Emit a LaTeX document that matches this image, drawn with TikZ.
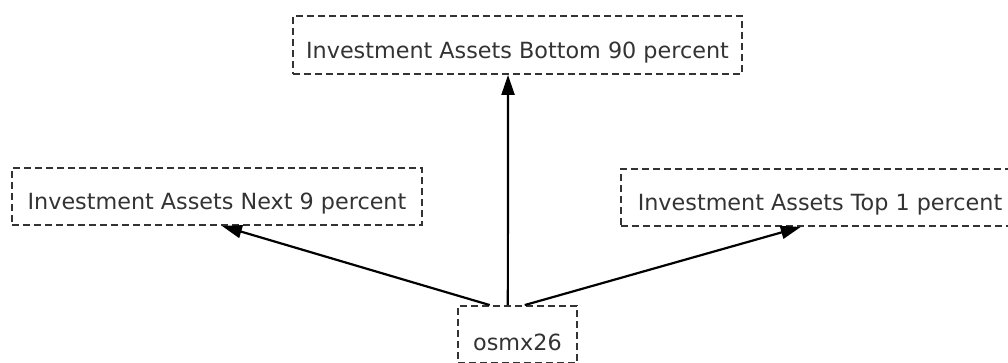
\documentclass[tikz,border=0pt]{standalone}
\usepackage{fontspec}
\setmainfont{DejaVu Sans}
\usetikzlibrary{arrows.meta,calc}
\begin{document}
\begin{tikzpicture}[x=1pt,y=-1pt,
  box/.style={draw=black!80, line width=1.9pt, dash pattern=on 7pt off 4pt,
    rectangle, inner sep=0pt, font=\fontsize{22.3}{24}\selectfont, text=black!80,
    text height=26pt, text depth=0pt},
  link/.style={line width=2.2pt, -{Triangle[length=20pt,width=13pt]}}]
\useasboundingbox (0,0) rectangle (1008,362);
\clip (0,0) rectangle (1008,362);
\node[box, minimum width=449pt, minimum height=58pt] (top) at (517.5,45) {Investment Assets Bottom 90 percent};
\node[box, minimum width=410pt, minimum height=57pt] (left) at (217,196.5) {Investment Assets Next 9 percent};
\node[box, minimum width=398pt, minimum height=57pt] (right) at (820,197.5) {Investment Assets Top 1 percent};
\node[box, minimum width=119pt, minimum height=57pt, text height=31pt] (bot) at (517.5,334.5) {osmx26};
\draw[link] ($(bot.north west)!0.27!(bot.north east)$) -- ($(left.south west)!0.512!(left.south east)$);
\draw[link] ($(bot.north west)!0.42!(bot.north east)$) -- ($(top.south west)!0.479!(top.south east)$);
\draw[link] ($(bot.north west)!0.56!(bot.north east)$) -- ($(right.south west)!0.452!(right.south east)$);
\end{tikzpicture}
\end{document}
